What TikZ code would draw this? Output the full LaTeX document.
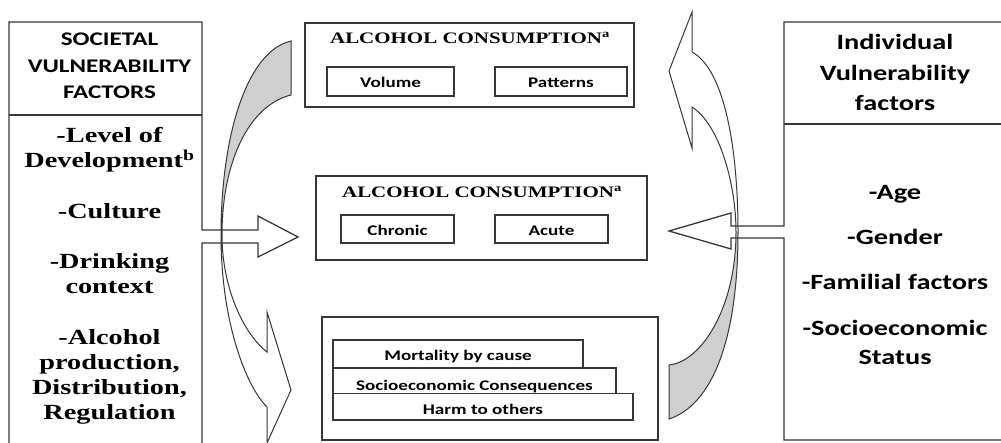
\documentclass[tikz,border=0pt]{standalone}
\usepackage{fontspec}
\newfontfamily\calb[FakeStretch=1.3]{Carlito}
\newfontfamily\serb[FakeStretch=1.31]{Liberation Serif}
\definecolor{greyfill}{RGB}{207,207,207}
\definecolor{ln}{RGB}{55,55,55}
\tikzset{
  box/.style={draw=ln, line width=1.3pt},
  subbox/.style={draw=ln, line width=1.5pt},
  band/.style={draw=ln, line width=1pt},
  hdr/.style={anchor=base, inner sep=0pt, font={\fontsize{19.3}{23}\calb\bfseries}},
  rhdr/.style={anchor=base, inner sep=0pt, font={\fontsize{21.8}{26}\calb\bfseries}},
  lst/.style={anchor=base, inner sep=0pt, font={\fontsize{21.6}{25}\serb\bfseries}},
  ttl/.style={anchor=base, inner sep=0pt, font={\fontsize{16}{19}\serb\bfseries}},
  lbl/.style={anchor=base, inner sep=0pt, font={\fontsize{14.7}{17}\calb\bfseries}}
}
\begin{document}
\begin{tikzpicture}[x=1pt,y=-1pt,line join=miter]
\useasboundingbox (0,0) rectangle (1001,443);
\clip (0,0) rectangle (1001,443);
\fill[white] (0,0) rectangle (1001,443);

% ---- grey back parts of the curved arrows
\fill[greyfill] (291,41) .. controls (245,52) and (221,140) .. (221,235)
  .. controls (222,160) and (250,105) .. (291,95) -- cycle;
\fill[greyfill] (738,232) .. controls (738,340) and (712,405) .. (669,419)
  -- (669,365) .. controls (700,362) and (736,310) .. (736,232) -- cycle;

% ---- left box with outgoing arrow
\coordinate (LBtop) at (9,22);
\draw[box] (9,450) -- (LBtop) -- (202,22) -- (202,230) -- (258,230) -- (258,216)
  -- (298,237) coordinate (Ltip) -- (258,257) -- (258,243) -- (202,243) -- (202,450);
\draw[box] (9,115) -- (202,115);

% ---- right box with outgoing arrow
\draw[box] (1010,22) -- (784,22) -- (784,226) -- (731,226) -- (731,213)
  -- (669,231) coordinate (Rtip) -- (731,249) -- (731,238) -- (784,238) -- (784,440) -- (1010,440);
\draw[box] (784,124) -- (1010,124);

% ---- curved arrows outlines
\draw[band] (291,95) -- (291,41) .. controls (245,52) and (221,140) .. (221,235)
  .. controls (221,320) and (245,385) .. (267,407) -- (267,443) -- (291,390)
  -- (267,312) -- (267,352) .. controls (245,335) and (222,290) .. (222,235)
  .. controls (222,160) and (250,105) .. (291,95) -- cycle;
\draw[band] (669,365) -- (669,419) .. controls (712,405) and (738,340) .. (738,232)
  .. controls (738,150) and (725,70) .. (692,52) -- (692,12) -- (669,71)
  -- (692,148) -- (692,107) .. controls (720,125) and (736,185) .. (736,232)
  .. controls (736,310) and (700,362) .. (669,365) -- cycle;

% ---- middle boxes
\draw[box] (305,23) rectangle (634,107);
\draw[subbox] (327,67) rectangle (454,96);
\draw[subbox] (495,67) rectangle (627,96);
\draw[box] (316,176) rectangle (647,260);
\draw[subbox] (341,215) rectangle (454,243);
\draw[subbox] (495,215) rectangle (608,243);
\draw[box] (322,317) rectangle (658,440);
\draw[box,fill=white] (333,340) rectangle (583,368);
\draw[box,fill=white] (333,368) rectangle (616,400);
\node[lbl] (tsoc) at (474.5,390) {Socioeconomic Consequences};
\draw[box,fill=white] (333,393.5) rectangle (633,420);

% ---- texts
\node[hdr] (h1) at (109.5,46) {SOCIETAL};
\node[hdr] (h2) at (109.5,72.5) {VULNERABILITY};
\node[hdr] (h3) at (109.5,99) {FACTORS};

\node[lst] (l1) at (109.5,142.7) {-Level of};
\node[lst] (l2) at (109.5,167.9) {Development\textsuperscript{b}};
\node[lst] (l3) at (109.5,218.3) {-Culture};
\node[lst] (l4) at (109.5,268.7) {-Drinking};
\node[lst] (l5) at (109.5,293.9) {context};
\node[lst] (l6) at (109.5,344.3) {-Alcohol};
\node[lst] (l7) at (109.5,369.5) {production,};
\node[lst] (l8) at (109.5,394.7) {Distribution,};
\node[lst] (l9) at (109.5,419.9) {Regulation};

\node[rhdr] (r1) at (895,50) {Individual};
\node[rhdr] (r2) at (895,80.5) {Vulnerability};
\node[rhdr] (r3) at (895,111) {factors};
\node[rhdr] (r4) at (895,200) {-Age};
\node[rhdr] (r5) at (895,245) {-Gender};
\node[rhdr] (r6) at (895,290) {-Familial factors};
\node[rhdr] (r7) at (895,335.5) {-Socioeconomic};
\node[rhdr] (r8) at (895,364) {Status};

\node[ttl] (t1) at (470,43.3) {ALCOHOL CONSUMPTION\textsuperscript{a}};
\node[ttl] (t2) at (482,197.3) {ALCOHOL CONSUMPTION\textsuperscript{a}};

\node[lbl] (tvol) at (390.5,87.3) {Volume};
\node[lbl] (tpat) at (561,87.3) {Patterns};
\node[lbl] (tchr) at (397.5,236) {Chronic};
\node[lbl] (tacu) at (551.5,236) {Acute};
\node[lbl] (tmor) at (458,360) {Mortality by cause};
\node[lbl] (tharm) at (483,414) {Harm to others};
\end{tikzpicture}
\end{document}
